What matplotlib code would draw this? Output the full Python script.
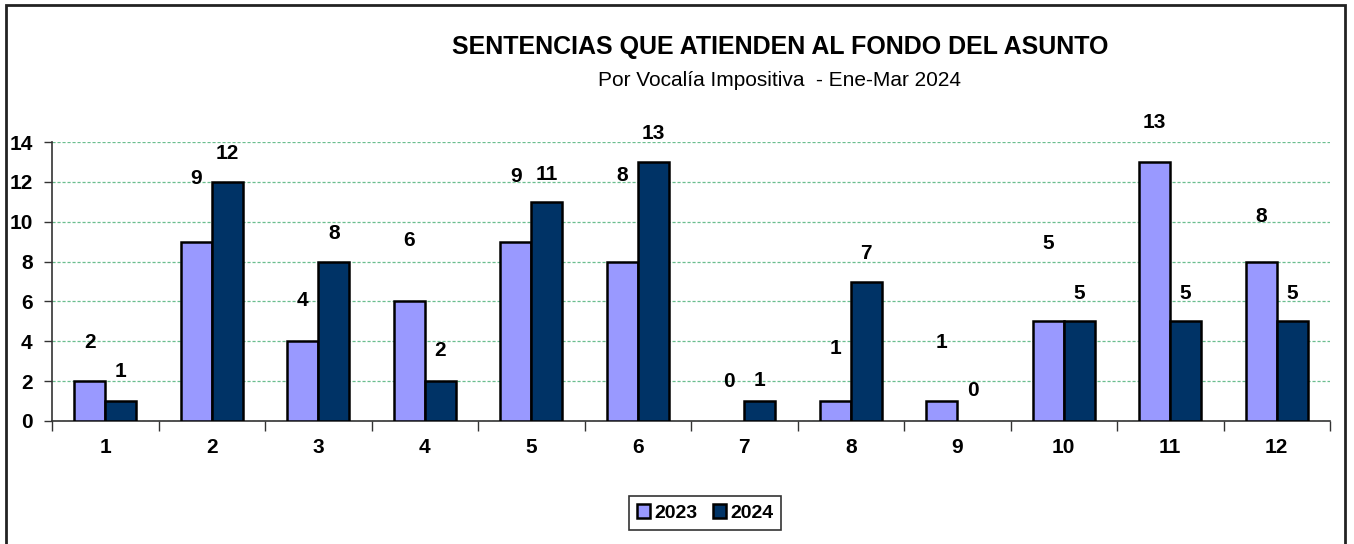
import matplotlib
matplotlib.use("Agg")
import matplotlib.pyplot as plt
import numpy as np
from matplotlib.patches import Rectangle

plt.rcParams['font.family'] = ['Liberation Sans', 'DejaVu Sans']

categories = ["1", "2", "3", "4", "5", "6", "7", "8", "9", "10", "11", "12"]
values_2023 = [2, 9, 4, 6, 9, 8, 0, 1, 1, 5, 13, 8]
values_2024 = [1, 12, 8, 2, 11, 13, 1, 7, 0, 5, 5, 5]
series_names = ["2023", "2024"]
title = "SENTENCIAS QUE ATIENDEN AL FONDO DEL ASUNTO"
subtitle = "Por Vocalía Impositiva  - Ene-Mar 2024"
yticks = [0, 2, 4, 6, 8, 10, 12, 14]

# label offsets above bars (data units), as placed in the original
label_off_2023 = [1.95, 3.15, 2.05, 3.05, 3.25, 4.3, 2.0, 2.65, 2.95, 3.9, 2.0, 2.25]
label_off_2024 = [1.5, 1.4, 1.4, 1.55, 1.35, 1.45, 1.05, 1.4, 1.55, 1.4, 1.4, 1.4]

c2023 = "#9999FF"
c2024 = "#003366"

fig = plt.figure(figsize=(13.54, 5.44), dpi=100)
ax = fig.add_axes([52/1354, 1-421/544, (1330-52)/1354, (421-142)/544])

x = np.arange(len(categories))
w = 0.29
b1 = ax.bar(x - w/2, values_2023, w, color=c2023, edgecolor="black", linewidth=1.8, label=series_names[0], zorder=3)
b2 = ax.bar(x + w/2, values_2024, w, color=c2024, edgecolor="black", linewidth=1.8, label=series_names[1], zorder=3)
for bars, vals in ((b1, values_2023), (b2, values_2024)):
    for p, v in zip(bars, vals):
        if v == 0:
            p.set_visible(False)

for i in range(len(categories)):
    ax.text(x[i] - w/2, values_2023[i] + label_off_2023[i], str(values_2023[i]),
            ha="center", va="center", fontsize=15, fontweight="bold", zorder=4)
    ax.text(x[i] + w/2, values_2024[i] + label_off_2024[i], str(values_2024[i]),
            ha="center", va="center", fontsize=15, fontweight="bold", zorder=4)

ax.set_xlim(-0.5, len(categories) - 0.5)
ax.set_ylim(0, 14)
ax.set_yticks(yticks)
ax.set_yticklabels([str(v) for v in yticks], fontsize=15, fontweight="bold")
ax.set_xticks(x)
ax.set_xticklabels(categories, fontsize=15, fontweight="bold")
ax.tick_params(axis="x", length=0, pad=12)
ax.set_xticks(np.arange(-0.5, len(categories), 1), minor=True)
ax.tick_params(axis="x", which="minor", length=7, width=1, color="#333333", direction="out")
ax.tick_params(axis="y", length=6, width=1, color="#333333", direction="out", pad=8)

ax.grid(axis="y", color="#3AA86A", linestyle=(0, (2.5, 1.5)), linewidth=0.9, alpha=0.75, zorder=0)
for s in ["top", "right"]:
    ax.spines[s].set_visible(False)
for s in ["left", "bottom"]:
    ax.spines[s].set_color("#333333")
    ax.spines[s].set_linewidth(1.2)

fig.text(780/1354, 1-47/544, title, ha="center", va="center", fontsize=18, fontweight="bold")
fig.text(780/1354, 1-80/544, subtitle, ha="center", va="center", fontsize=15)

leg = fig.legend(handles=[b1, b2], labels=series_names, loc="center",
                 bbox_to_anchor=(705/1354, 1-513/544), ncol=2, frameon=True,
                 fancybox=False, edgecolor="black",
                 prop={"weight": "bold", "size": 14},
                 handlelength=0.7, handleheight=0.7, handletextpad=0.2,
                 columnspacing=0.8, borderpad=0.4)
leg.get_frame().set_linewidth(1.2)

fig.patches.append(Rectangle((6/1354, -0.05), (1345-6)/1354, 1.05 - 5/544,
                             transform=fig.transFigure, fill=False,
                             edgecolor="#222222", linewidth=2))

fig.savefig("out.png", dpi=100)
